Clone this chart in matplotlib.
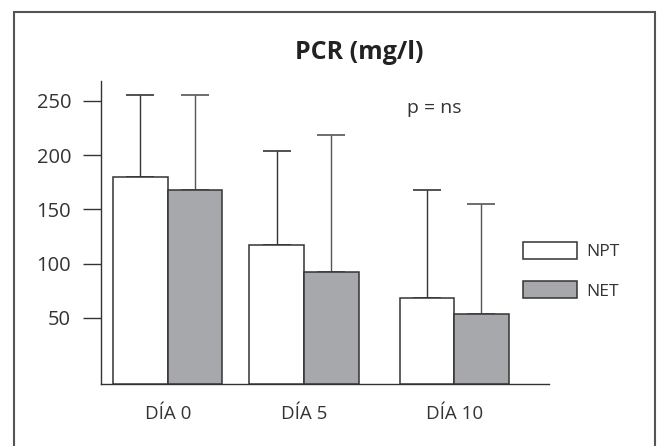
import numpy as np
import matplotlib
matplotlib.use('Agg')
import matplotlib.pyplot as plt
from matplotlib.patches import Rectangle, Patch

# datos
dias = ['DÍA 0', 'DÍA 5', 'DÍA 10']
npt = [180, 117, 68]
net = [168, 92, 54]
npt_sd = [75, 87, 100]
net_sd = [87, 126, 101]
yticks = [50, 100, 150, 200, 250]

plt.rcParams['font.family'] = ['Open Sans', 'DejaVu Sans']

# posiciones de los grupos (en anchos de barra)
centros = np.array([1.224, 3.725, 6.48])
ancho = 1.0
y0 = -10.8
borde = '#333333'
gris = '#a7a8ab'

fig = plt.figure(figsize=(6.57, 4.46), dpi=100)
ax = fig.add_axes([0.1537, 0.139, 0.6824, 0.680])

ax.bar(centros - ancho / 2, np.array(npt) - y0, bottom=y0, width=ancho,
       color='white', edgecolor=borde, linewidth=1.1, zorder=3)
ax.bar(centros + ancho / 2, np.array(net) - y0, bottom=y0, width=ancho,
       color=gris, edgecolor=borde, linewidth=1.1, zorder=3)

# barras de error solo hacia arriba
ax.errorbar(centros - ancho / 2, npt, yerr=[np.zeros(3), npt_sd], fmt='none',
            ecolor=borde, elinewidth=1.0, capsize=10.4, capthick=1.2, zorder=2)
ax.errorbar(centros + ancho / 2, net, yerr=[np.zeros(3), net_sd], fmt='none',
            ecolor='#555555', elinewidth=1.0, capsize=10.4, capthick=1.2, zorder=2)

ax.set_xlim(0, 8.226)
ax.set_ylim(y0, 268.4)
ax.set_yticks(yticks)
ax.set_yticklabels([str(v) for v in yticks], fontsize=14.5, color='#333333')
ax.set_xticks(centros)
ax.set_xticklabels(dias, fontsize=13.5, color='#333333')
ax.tick_params(axis='y', length=13, width=1.0, color=borde, pad=8.5)
ax.tick_params(axis='x', length=0, pad=15)

for s in ['top', 'right']:
    ax.spines[s].set_visible(False)
for s in ['left', 'bottom']:
    ax.spines[s].set_color(borde)
    ax.spines[s].set_linewidth(1.0)

fig.text(0.5464, 0.883, 'PCR (mg/l)', ha='center', va='center',
         fontsize=18, fontweight='bold', color='#222222')
fig.text(0.6606, 0.758, 'p = ns', ha='center', va='center',
         fontsize=14, color='#333333')

handles = [Patch(facecolor='white', edgecolor=borde, linewidth=1.1, label='NPT'),
           Patch(facecolor=gris, edgecolor=borde, linewidth=1.1, label='NET')]
fig.legend(handles=handles, loc='upper left', bbox_to_anchor=(0.7956, 0.458),
           frameon=False, fontsize=12.5, handlelength=3.1, handleheight=1.15,
           handletextpad=0.55, labelspacing=1.2, borderpad=0, borderaxespad=0,
           labelcolor='#333333')

# marco exterior
fig.patches.append(Rectangle((0.0213, -0.02), 0.9756, 0.993, transform=fig.transFigure,
                             fill=False, edgecolor='#555555', linewidth=1.5))

plt.savefig('out.png', dpi=100)
plt.close()
